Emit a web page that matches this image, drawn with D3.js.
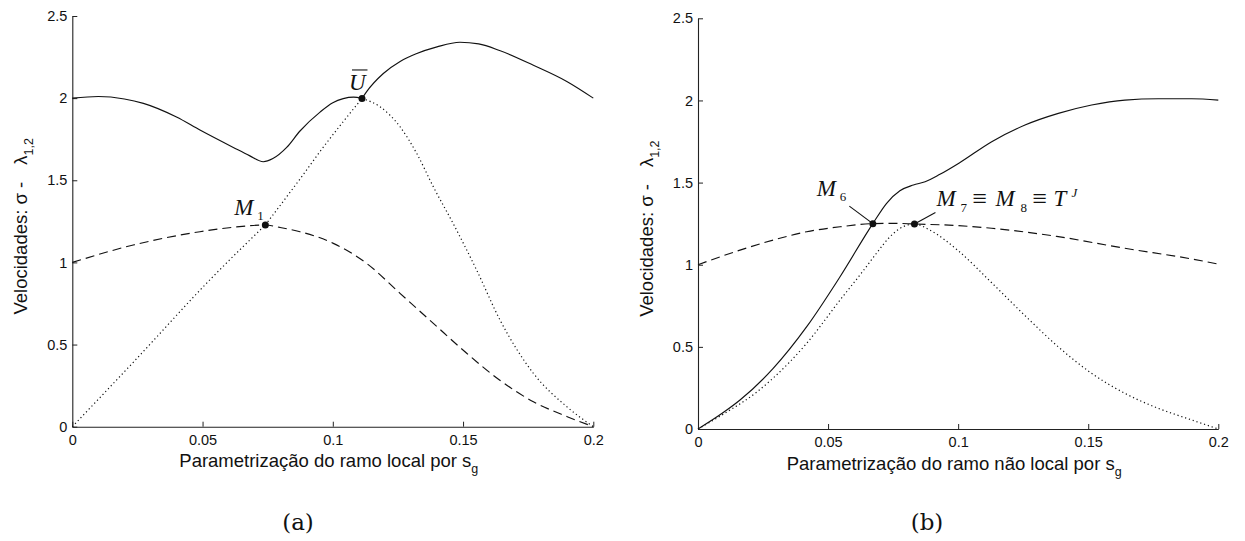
<!DOCTYPE html>
<html>
<head>
<meta charset="utf-8">
<script src="https://cdn.jsdelivr.net/npm/d3@7"></script>
<style>
body { margin: 0; background: #fff; }
svg { display: block; }
</style>
</head>
<body>
<svg width="1245" height="541"></svg>
<script>
// tick values
const xTicks = [0, 0.05, 0.1, 0.15, 0.2];
const yTicks = [0, 0.5, 1, 1.5, 2, 2.5];

// panel (a) - ramo local: [s_g, velocidade]
const solidA1 = [[0,2.0],[0.01,2.01],[0.02,1.995],[0.0273,1.968],[0.04,1.885],[0.049,1.806],[0.0618,1.70],[0.068,1.65],[0.0733,1.613],[0.077,1.632],[0.0823,1.70],[0.0874,1.8],[0.0951,1.915],[0.1,1.972],[0.104,1.997],[0.108,2.006],[0.1112,1.998]];
const solidA2 = [[0.1112,1.998],[0.113,2.04],[0.1194,2.15],[0.126,2.225],[0.132,2.27],[0.14,2.312],[0.1488,2.34],[0.156,2.33],[0.164,2.29],[0.177,2.20],[0.19,2.10],[0.2,2.0]];
const dashedA = [[0,1.0],[0.0234,1.106],[0.049,1.187],[0.0618,1.214],[0.0741,1.228],[0.0797,1.213],[0.0874,1.187],[0.1002,1.116],[0.113,0.994],[0.1258,0.812],[0.1386,0.629],[0.1514,0.447],[0.164,0.284],[0.177,0.152],[0.19,0.061],[0.2,0.0]];
const dottedA1 = [[0,0],[0.0234,0.392],[0.0541,0.915],[0.0741,1.228]];
const dottedA2 = [[0.0741,1.228],[0.0875,1.51],[0.0951,1.675],[0.1112,1.998]];
const dottedA3 = [[0.1112,1.998],[0.1181,1.948],[0.1258,1.826],[0.1322,1.664],[0.1386,1.46],[0.1466,1.225],[0.1552,0.954],[0.1642,0.649],[0.177,0.325],[0.1898,0.122],[0.2,0.0]];
const pointsA = [[0.0741,1.228],[0.1112,1.998]];

// panel (b) - ramo nao local
const solidB = [[0,0],[0.0097,0.10],[0.01615,0.1765],[0.0289,0.369],[0.0418,0.623],[0.0546,0.927],[0.0672,1.25],[0.0725,1.374],[0.0776,1.45],[0.0828,1.485],[0.0873,1.505],[0.093,1.55],[0.1007,1.622],[0.1129,1.749],[0.1257,1.85],[0.1385,1.921],[0.1513,1.972],[0.1641,2.002],[0.1769,2.01],[0.1898,2.01],[0.2,2.002]];
const dashedB = [[0,1.0],[0.01615,1.089],[0.0289,1.15],[0.0418,1.201],[0.0546,1.231],[0.0672,1.25],[0.075,1.252],[0.0832,1.248],[0.1,1.238],[0.1129,1.222],[0.1385,1.171],[0.1641,1.10],[0.1898,1.035],[0.2,1.004]];
const dottedB = [[0,0],[0.0097,0.09],[0.0226,0.225],[0.0289,0.31],[0.0418,0.522],[0.0546,0.785],[0.0636,0.965],[0.0674,1.045],[0.0751,1.19],[0.0789,1.232],[0.0832,1.248],[0.0892,1.21],[0.1004,1.08],[0.1129,0.89],[0.1257,0.69],[0.1385,0.50],[0.1513,0.339],[0.1641,0.217],[0.1769,0.126],[0.1898,0.055],[0.2,0.0]];
const pointsB = [[0.0672,1.25],[0.0832,1.248]];

const sansFont = "'Liberation Sans', Arial, Helvetica, sans-serif";
const serifFont = "'Liberation Serif', 'Times New Roman', serif";

const svg = d3.select("svg");

const panels = [
    {left: 72.3, right: 593.3, top: 16, bottom: 426.7, title: "Parametrização do ramo local por s",
     caption: "(a)", capX: 298, solids: [solidA1, solidA2], dashed: [dashedA], dotted: [dottedA1, dottedA2, dottedA3], points: pointsA},
    {left: 698, right: 1218.3, top: 18.3, bottom: 429, title: "Parametrização do ramo não local por s",
     caption: "(b)", capX: 927, solids: [solidB], dashed: [dashedB], dotted: [dottedB], points: pointsB}
];

function mathText(g, x, y, str, size, italic) {
    return g.append("text")
        .attr("x", x).attr("y", y)
        .attr("font-family", serifFont)
        .attr("font-size", size)
        .attr("font-style", italic ? "italic" : "normal")
        .attr("fill", "#111")
        .text(str);
}

function drawPanel(p, idx) {
    const x = d3.scaleLinear().domain([0, 0.2]).range([p.left, p.right]);
    const y = d3.scaleLinear().domain([0, 2.5]).range([p.bottom, p.top]);
    const g = svg.append("g");

    // axes (ticks pointing inward, no box)
    const xa = g.append("g")
        .attr("transform", "translate(0," + p.bottom + ")")
        .call(d3.axisBottom(x).tickValues(xTicks).tickSizeInner(-5).tickSizeOuter(0).tickPadding(8).tickFormat(d => String(d)));
    const ya = g.append("g")
        .attr("transform", "translate(" + p.left + ",0)")
        .call(d3.axisLeft(y).tickValues(yTicks).tickSizeInner(-5).tickSizeOuter(0).tickPadding(5).tickFormat(d => String(d)));
    [xa, ya].forEach(a => {
        a.attr("font-family", sansFont).attr("font-size", 14.5);
        a.select(".domain").attr("stroke", "#222").attr("stroke-width", 1.1);
        a.selectAll(".tick line").attr("stroke", "#222");
        a.selectAll(".tick text").attr("fill", "#111");
    });

    const line = d3.line()
        .x(d => x(d[0]))
        .y(d => y(d[1]))
        .curve(d3.curveMonotoneX);

    g.selectAll(".dotted").data(p.dotted).enter().append("path")
        .attr("d", line).attr("fill", "none")
        .attr("stroke", "#111").attr("stroke-width", 1.2)
        .attr("stroke-dasharray", "1.2,2.8");
    g.selectAll(".dashed").data(p.dashed).enter().append("path")
        .attr("d", line).attr("fill", "none")
        .attr("stroke", "#111").attr("stroke-width", 1.15)
        .attr("stroke-dasharray", "9,5");
    g.selectAll(".solid").data(p.solids).enter().append("path")
        .attr("d", line).attr("fill", "none")
        .attr("stroke", "#111").attr("stroke-width", 1.15);

    g.selectAll(".pt").data(p.points).enter().append("circle")
        .attr("cx", d => x(d[0])).attr("cy", d => y(d[1]))
        .attr("r", 3.5).attr("fill", "#111");

    // axis titles
    const xt = g.append("text")
        .attr("x", (p.left + p.right) / 2 - 4).attr("y", p.bottom + 40.5)
        .attr("text-anchor", "middle")
        .attr("font-family", sansFont).attr("font-size", 18.5).attr("fill", "#111");
    xt.append("tspan").text(p.title);
    xt.append("tspan").attr("font-size", 12.5).attr("dy", 6).text("g");

    const yt = g.append("text")
        .attr("transform", "translate(" + (p.left - 45.5) + "," + ((p.top + p.bottom) / 2 + 5) + ") rotate(-90)")
        .attr("text-anchor", "middle")
        .attr("font-family", sansFont).attr("font-size", 18.5).attr("fill", "#111");
    yt.append("tspan").text("Velocidades: σ -");
    yt.append("tspan").attr("dx", 17).text("λ");
    yt.append("tspan").attr("font-size", 12.5).attr("dy", 6).text("1,2");

    // caption
    g.append("text")
        .attr("x", p.capX).attr("y", 530)
        .attr("text-anchor", "middle")
        .attr("font-family", "'DejaVu Serif', serif").attr("font-size", 23)
        .attr("fill", "#111")
        .text(p.caption);

    // annotations
    if (idx === 0) {
        const m1x = x(pointsA[0][0]), m1y = y(pointsA[0][1]);
        mathText(g, m1x - 31, m1y - 10, "M", 23, true);
        mathText(g, m1x - 8, m1y - 5, "1", 13, false);
        const ux = x(pointsA[1][0]), uy = y(pointsA[1][1]);
        mathText(g, ux - 13, uy - 8.5, "U", 23, true);
        g.append("line")
            .attr("x1", ux - 10).attr("x2", ux + 5.5)
            .attr("y1", uy - 28.5).attr("y2", uy - 28.5)
            .attr("stroke", "#111").attr("stroke-width", 1.1);
    } else {
        const m6x = x(pointsB[0][0]), m6y = y(pointsB[0][1]);
        mathText(g, m6x - 56, m6y - 28, "M", 23, true);
        mathText(g, m6x - 33, m6y - 23, "6", 13, false);
        g.append("line")
            .attr("x1", m6x - 23.5).attr("y1", m6y - 17.5)
            .attr("x2", m6x).attr("y2", m6y)
            .attr("stroke", "#111").attr("stroke-width", 1.1);
        const m7x = x(pointsB[1][0]), m7y = y(pointsB[1][1]);
        g.append("line")
            .attr("x1", m7x + 21).attr("y1", m7y - 11.5)
            .attr("x2", m7x).attr("y2", m7y)
            .attr("stroke", "#111").attr("stroke-width", 1.1);
        const bx = m7x + 22, by = m7y - 17.5;
        mathText(g, bx, by, "M", 23, true);
        mathText(g, bx + 24, by + 6, "7", 13, false);
        mathText(g, bx + 36, by + 1, "≡", 26, false);
        mathText(g, bx + 59, by, "M", 23, true);
        mathText(g, bx + 84, by + 6, "8", 13, false);
        mathText(g, bx + 96, by + 1, "≡", 26, false);
        mathText(g, bx + 117, by, "T", 23, true);
        mathText(g, bx + 135, by - 9, "J", 13, true);
    }
}

panels.forEach(drawPanel);
</script>
</body>
</html>
